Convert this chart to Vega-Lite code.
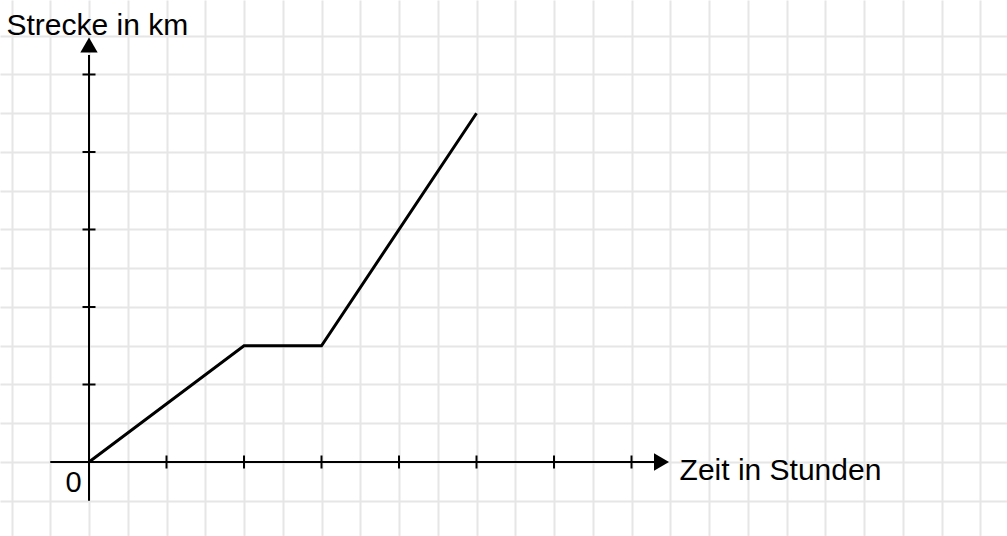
{
  "$schema": "https://vega.github.io/schema/vega-lite/v6.json",
  "width": 1007,
  "height": 536,
  "autosize": {"type": "fit", "contains": "padding"},
  "padding": 0,
  "background": "white",
  "config": {"view": {"stroke": null}},
  "datasets": {
    "weg": [
      {"zeit": 0, "strecke": 0},
      {"zeit": 2, "strecke": 1.5},
      {"zeit": 3, "strecke": 1.5},
      {"zeit": 5, "strecke": 4.5}
    ],
    "xticks": [{"t": 1}, {"t": 2}, {"t": 3}, {"t": 4}, {"t": 5}, {"t": 6}, {"t": 7}],
    "yticks": [{"t": 1}, {"t": 2}, {"t": 3}, {"t": 4}, {"t": 5}],
    "one": [{}]
  },
  "layer": [
    {
      "data": {"name": "weg"},
      "mark": {"type": "line", "color": "black", "strokeWidth": 3, "opacity": 0},
      "encoding": {
        "x": {
          "field": "zeit", "type": "quantitative",
          "scale": {"domain": [-1.1484, 11.845], "nice": false, "zero": false},
          "axis": {"values": [-1,-0.5,0,0.5,1,1.5,2,2.5,3,3.5,4,4.5,5,5.5,6,6.5,7,7.5,8,8.5,9,9.5,10,10.5,11,11.5],
                   "grid": true, "gridColor": "#e6e6e6", "gridWidth": 2, "domain": false, "ticks": false, "labels": false, "title": null}
        },
        "y": {
          "field": "strecke", "type": "quantitative",
          "scale": {"domain": [-0.9548, 5.961], "nice": false, "zero": false},
          "axis": {"values": [-0.5,0,0.5,1,1.5,2,2.5,3,3.5,4,4.5,5,5.5],
                   "grid": true, "gridColor": "#e6e6e6", "gridWidth": 2, "domain": false, "ticks": false, "labels": false, "title": null}
        }
      }
    },
    {
      "data": {"name": "one"},
      "mark": {"type": "rule", "color": "black", "strokeWidth": 2},
      "encoding": {
        "x": {"datum": -0.5, "type": "quantitative"},
        "x2": {"datum": 7.3},
        "y": {"datum": 0, "type": "quantitative"}
      }
    },
    {
      "data": {"name": "one"},
      "mark": {"type": "rule", "color": "black", "strokeWidth": 2},
      "encoding": {
        "x": {"datum": 0, "type": "quantitative"},
        "y": {"datum": -0.5, "type": "quantitative"},
        "y2": {"datum": 5.25}
      }
    },
    {
      "data": {"name": "one"},
      "mark": {"type": "point", "shape": "triangle-right", "filled": true, "color": "black", "opacity": 1, "size": 300},
      "encoding": {
        "x": {"datum": 7.387, "type": "quantitative"},
        "y": {"datum": 0, "type": "quantitative"}
      }
    },
    {
      "data": {"name": "one"},
      "mark": {"type": "point", "shape": "triangle-up", "filled": true, "color": "black", "opacity": 1, "size": 300},
      "encoding": {
        "x": {"datum": 0, "type": "quantitative"},
        "y": {"datum": 5.38, "type": "quantitative"}
      }
    },
    {
      "data": {"name": "xticks"},
      "mark": {"type": "tick", "orient": "vertical", "color": "black", "opacity": 1, "size": 13, "thickness": 2},
      "encoding": {
        "x": {"field": "t", "type": "quantitative"},
        "y": {"datum": 0, "type": "quantitative"}
      }
    },
    {
      "data": {"name": "yticks"},
      "mark": {"type": "tick", "orient": "horizontal", "color": "black", "opacity": 1, "size": 13, "thickness": 2},
      "encoding": {
        "y": {"field": "t", "type": "quantitative"},
        "x": {"datum": 0, "type": "quantitative"}
      }
    },
    {
      "data": {"name": "weg"},
      "mark": {"type": "line", "color": "black", "strokeWidth": 3},
      "encoding": {
        "x": {"field": "zeit", "type": "quantitative"},
        "y": {"field": "strecke", "type": "quantitative"}
      }
    },
    {
      "data": {"name": "one"},
      "mark": {"type": "text", "text": "Strecke in km", "font": "Liberation Sans", "fontSize": 30, "align": "left", "baseline": "alphabetic", "color": "black"},
      "encoding": {
        "x": {"datum": -1.065, "type": "quantitative"},
        "y": {"datum": 5.51, "type": "quantitative"}
      }
    },
    {
      "data": {"name": "one"},
      "mark": {"type": "text", "text": "Zeit in Stunden", "font": "Liberation Sans", "fontSize": 30, "align": "left", "baseline": "alphabetic", "color": "black"},
      "encoding": {
        "x": {"datum": 7.62, "type": "quantitative"},
        "y": {"datum": -0.232, "type": "quantitative"}
      }
    },
    {
      "data": {"name": "one"},
      "mark": {"type": "text", "text": "0", "font": "Liberation Sans", "fontSize": 29, "align": "center", "baseline": "alphabetic", "color": "black"},
      "encoding": {
        "x": {"datum": -0.2, "type": "quantitative"},
        "y": {"datum": -0.39, "type": "quantitative"}
      }
    }
  ]
}
